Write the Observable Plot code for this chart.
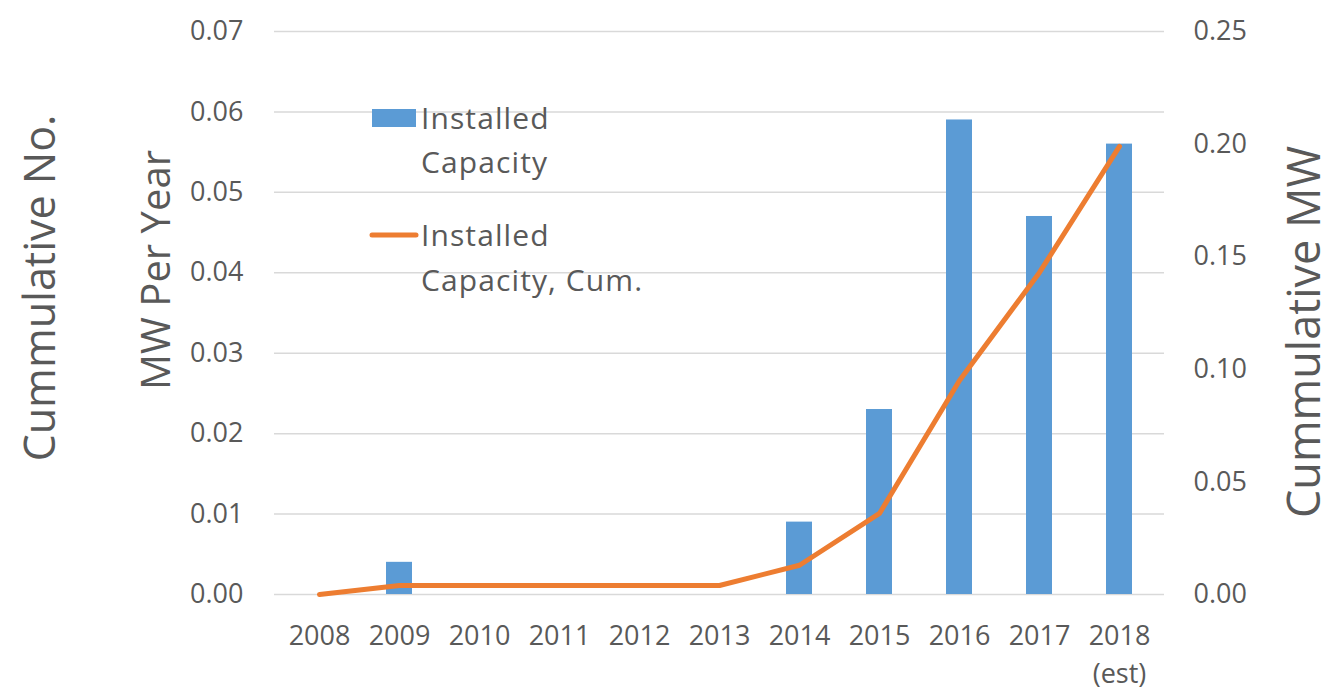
<!DOCTYPE html>
<html>
<head>
<meta charset="utf-8">
<script src="https://cdn.jsdelivr.net/npm/d3@7"></script>
<script src="https://cdn.jsdelivr.net/npm/@observablehq/plot@0.6"></script>
<style>
  html, body { margin: 0; padding: 0; background: #fff; }
  #chart { width: 1332px; height: 692px; }
  svg { font-family: "Open Sans", sans-serif; }
</style>
</head>
<body>
<div id="chart"></div>
<script>
// Data
const years = ["2008", "2009", "2010", "2011", "2012", "2013", "2014", "2015", "2016", "2017", "2018"];
const installedCapacity = [0, 0.004, 0, 0, 0, 0, 0.009, 0.023, 0.059, 0.047, 0.056];
const installedCapacityCum = [0, 0.004, 0.004, 0.004, 0.004, 0.004, 0.013, 0.036, 0.095, 0.143, 0.199];
const leftTicks = [0, 0.01, 0.02, 0.03, 0.04, 0.05, 0.06, 0.07];
const rightTicks = [0, 0.05, 0.10, 0.15, 0.20, 0.25];
const yearLabels = {"2018": "2018\n(est)"};
const seriesNames = ["Installed Capacity", "Installed Capacity, Cum."];
const axisTitles = {left1: "Cummulative No.", left2: "MW Per Year", right: "Cummulative MW"};

const leftMax = 0.07, rightMax = 0.25;
const k = leftMax / rightMax; // map right-axis values into the left scale

const bars = years.map((y, i) => ({year: y, value: installedCapacity[i]}));
const cum = years.map((y, i) => ({year: y, value: installedCapacityCum[i] * k}));

const textColor = "#595959";
const blue = "#5B9BD5", orange = "#ED7D31";

const plot = Plot.plot({
  width: 1332,
  height: 692,
  marginLeft: 274,
  marginRight: 168,
  marginTop: 31,
  marginBottom: 98,
  style: {fontFamily: "'Open Sans', sans-serif", color: textColor, background: "#fff"},
  x: {domain: years, type: "band", paddingInner: 0.68, paddingOuter: 0.34},
  y: {domain: [0, leftMax]},
  marks: [
    Plot.gridY(leftTicks, {stroke: "#D9D9D9", strokeOpacity: 1, strokeWidth: 1.5}),
    Plot.barY(bars, {x: "year", y: "value", fill: blue}),
    Plot.line(cum, {x: "year", y: "value", stroke: orange, strokeWidth: 5, strokeLinejoin: "round", strokeLinecap: "round"}),
    Plot.axisY(leftTicks, {anchor: "left", tickSize: 0, tickPadding: 31, fontSize: 27, fill: textColor, label: null, tickFormat: d => d.toFixed(2)}),
    Plot.axisY(rightTicks.map(v => v * k), {anchor: "right", tickSize: 0, tickPadding: 29, fontSize: 27, fill: textColor, label: null, tickFormat: d => (d / k).toFixed(2)}),
    Plot.axisX({tickSize: 0, tickPadding: 23, fontSize: 27, fill: textColor, label: null, lineHeight: 1.42, tickFormat: d => yearLabels[d] ?? d})
  ]
});

document.getElementById("chart").appendChild(plot);

const svg = d3.select(plot);

// Axis titles
function vtitle(text, x, y, size) {
  svg.append("text")
    .attr("transform", `translate(${x},${y}) rotate(-90)`)
    .attr("text-anchor", "middle")
    .attr("fill", textColor)
    .attr("font-size", size)
    .attr("font-family", "'Open Sans', sans-serif")
    .text(text);
}
vtitle(axisTitles.left1, 55, 288, 43);
vtitle(axisTitles.left2, 170, 270, 40);
vtitle(axisTitles.right, 1320, 332, 45);

// Legend
const lg = svg.append("g").attr("fill", textColor).attr("font-size", 30)
  .attr("letter-spacing", "1.1px")
  .attr("font-family", "'Open Sans', sans-serif").attr("text-anchor", "start");
lg.append("rect").attr("x", 372).attr("y", 109).attr("width", 44).attr("height", 18).attr("fill", blue);
lg.append("text").attr("x", 421).attr("y", 129).text("Installed");
lg.append("text").attr("x", 421).attr("y", 173).text("Capacity");
lg.append("line").attr("x1", 372).attr("x2", 416).attr("y1", 235).attr("y2", 235)
  .attr("stroke", orange).attr("stroke-width", 5).attr("stroke-linecap", "round");
lg.append("text").attr("x", 421).attr("y", 246).text("Installed");
lg.append("text").attr("x", 421).attr("y", 291).text("Capacity, Cum.");
</script>
</body>
</html>
